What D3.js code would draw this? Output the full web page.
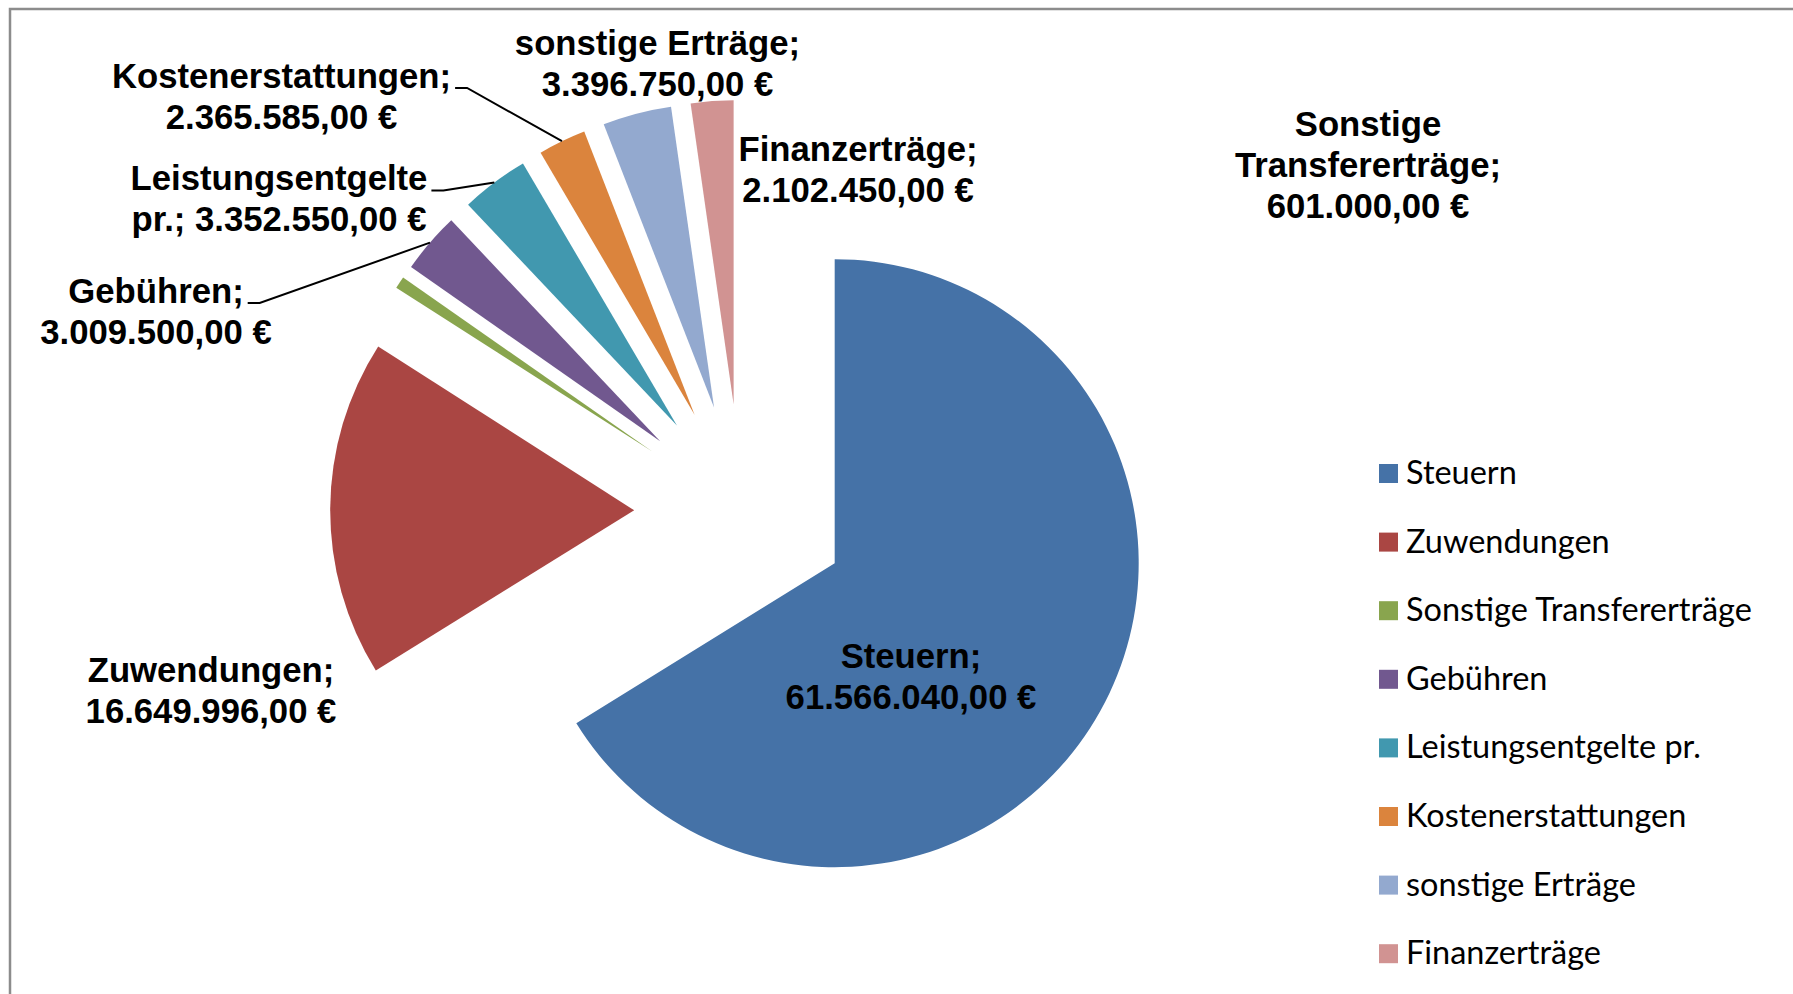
<!DOCTYPE html>
<html>
<head>
<meta charset="utf-8">
<script src="https://cdn.jsdelivr.net/npm/d3@7"></script>
<style>
  html, body { margin: 0; padding: 0; background: #ffffff; }
  svg { display: block; }
</style>
</head>
<body>
<svg id="chart" width="1793" height="994"></svg>
<script>
// ---------------- DATA ----------------
const categories = ["Steuern", "Zuwendungen", "Sonstige Transfererträge", "Gebühren",
  "Leistungsentgelte pr.", "Kostenerstattungen", "sonstige Erträge", "Finanzerträge"];
const values = [61566040, 16649996, 601000, 3009500, 3352550, 2365585, 3396750, 2102450];
const colors = ["#4572A7", "#AA4643", "#89A54E", "#71588F", "#4198AF", "#DB843D", "#93A9CF", "#D19392"];

// ---------------- LAYOUT ----------------
const W = 1793, H = 994;
const center = [741.2, 511.1];
const radius = 304;
const explode = 107;
const labelFont = 34.7, labelLine = 41;
// label anchor: [centre x, first baseline y], wrap width
const labelAnchors = [[911, 668], [211, 681.5], [1368, 136], [156, 302.5], [279, 190], [281.5, 87.5], [657.5, 54.5], [858, 161]];
const labelWrap = [260, 260, 280, 280, 310, 350, 300, 260];
const hasLeader = [false, false, false, true, true, true, false, false];
const legend = { markerX: 1379, textX: 1406, y0: 473.5, step: 68.6, size: 19, targetWidth: 346 };

const svg = d3.select("#chart");
svg.append("rect").attr("width", W).attr("height", H).attr("fill", "#fff");

// outer border (only top & left visible)
svg.append("path")
  .attr("d", `M10,${H + 5} L10,9 L${W + 5},9`)
  .attr("fill", "none").attr("stroke", "#8c8c8c").attr("stroke-width", 2.5);

const data = categories.map((c, i) => ({ name: c, value: values[i], color: colors[i] }));
const pie = d3.pie().sort(null).value(d => d.value);
const arcs = pie(data);
const arc = d3.arc().innerRadius(0).outerRadius(radius);

const nf = d3.formatLocale({ decimal: ",", thousands: ".", grouping: [3], currency: ["", " €"] }).format(",.2f");

function offset(d) {
  const m = (d.startAngle + d.endAngle) / 2;
  return [center[0] + explode * Math.sin(m), center[1] - explode * Math.cos(m)];
}

svg.append("g").selectAll("path").data(arcs).join("path")
  .attr("transform", d => { const o = offset(d); return `translate(${o[0]},${o[1]})`; })
  .attr("d", arc)
  .attr("fill", d => d.data.color);

// data labels
const lg = svg.append("g")
  .attr("font-family", "'Liberation Sans', Arial, sans-serif")
  .attr("font-weight", "bold")
  .attr("font-size", labelFont)
  .attr("fill", "#000");

arcs.forEach((d, i) => {
  const words = `${d.data.name}; ${nf(d.data.value)} €`.split(" ");
  const [ax, ay] = labelAnchors[i];
  const t = lg.append("text").attr("text-anchor", "middle");
  // greedy wrap
  const lines = [];
  let cur = [];
  const probe = lg.append("text");
  words.forEach(w => {
    const test = cur.concat([w]).join(" ");
    probe.text(test);
    if (cur.length && probe.node().getComputedTextLength() > labelWrap[i]) {
      lines.push(cur.join(" "));
      cur = [w];
    } else cur.push(w);
  });
  lines.push(cur.join(" "));
  probe.remove();
  lines.forEach((l, k) => {
    t.append("tspan").attr("x", ax).attr("y", ay + k * labelLine).text(l);
  });
  if (hasLeader[i]) {
    const first = t.select("tspan").node();
    const tw = first.getComputedTextLength();
    const sx = ax + tw / 2 + 4, sy = ay + 0.5;
    const o = offset(d);
    const m = (d.startAngle + d.endAngle) / 2;
    const ex = o[0] + radius * Math.sin(m), ey = o[1] - radius * Math.cos(m);
    svg.append("path")
      .attr("d", d3.line()([[sx, sy], [sx + 12, sy], [ex, ey]]))
      .attr("fill", "none").attr("stroke", "#000").attr("stroke-width", 2);
  }
});

// legend
const leg = svg.append("g")
  .attr("font-family", "Lato, 'Open Sans', sans-serif")
  .attr("fill", "#000");
let legSize = 29;
const probe2 = leg.append("text").attr("font-size", 30).text("Sonstige Transfererträge");
const pw = probe2.node().getComputedTextLength();
probe2.remove();
if (pw > 0) legSize = 30 * legend.targetWidth / pw;
leg.attr("font-size", legSize);

data.forEach((d, i) => {
  const cy = legend.y0 + i * legend.step;
  leg.append("rect")
    .attr("x", legend.markerX).attr("y", cy - legend.size / 2)
    .attr("width", legend.size).attr("height", legend.size)
    .attr("fill", d.color);
  leg.append("text")
    .attr("x", legend.textX).attr("y", cy + 10.5)
    .text(d.name);
});
</script>
</body>
</html>
